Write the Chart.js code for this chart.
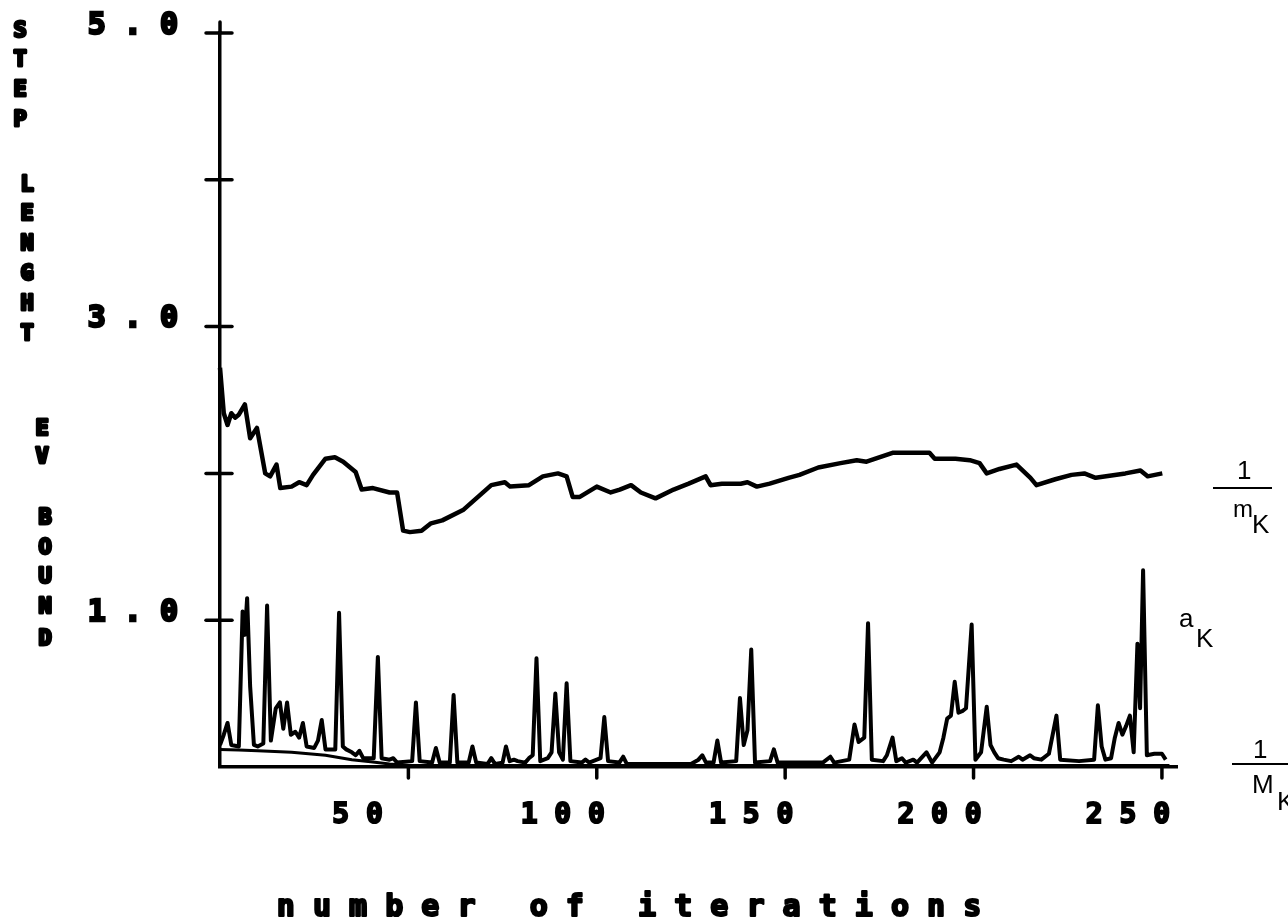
<!DOCTYPE html>
<html>
<head>
<meta charset="utf-8">
<script src="https://cdn.jsdelivr.net/npm/chart.js@4/dist/chart.umd.min.js"></script>
<style>
  html, body { margin: 0; padding: 0; background: #fff; }
  #c { display: block; }
</style>
</head>
<body>
<canvas id="c" width="1288" height="922"></canvas>
<script>
// ---- Data ----
// Upper curve: 1/m_K
const upperIter = [0,1,2,3,4,5,6.6,8,9.8,12,13.3,15,16,19,21,23,24.7,28,30.5,32.7,36,37.6,40.6,45,47,48.6,50.4,53.5,56,59,64.5,72,75.6,77,82,85.7,89.7,92,93.6,95.5,100,
  103.7,106.1,109.1,111.7,115.6,120.4,124.4,128.9,130.2,133.2,138.2,140,142.5,145.9,150.9,153.8,158.8,164.7,169,171.6,178.5,183.3,188.3,189.7,195.2,199,201.6,203.5,206.9,211.4,215.1,216.7,221.7,226,229.4,232.4,240.3,244.3,246.2,250.1];
const upperVal = [2.72,2.41,2.33,2.41,2.38,2.40,2.47,2.24,2.31,2.00,1.98,2.06,1.90,1.91,1.94,1.92,1.99,2.10,2.11,2.08,2.01,1.89,1.90,1.87,1.87,1.61,1.60,1.61,1.66,1.68,1.75,1.92,1.94,1.91,1.92,1.98,2.00,1.98,1.84,1.84,1.91,
  1.87,1.89,1.92,1.87,1.83,1.89,1.93,1.98,1.92,1.93,1.93,1.94,1.91,1.93,1.97,1.99,2.04,2.07,2.09,2.08,2.14,2.14,2.14,2.10,2.10,2.09,2.07,2.00,2.03,2.06,1.97,1.92,1.96,1.99,2.00,1.97,2.00,2.02,1.98,2.00];

// Spiky curve: a_K
const akIter = [0,1,2,3,5,6,6.6,7.2,8,9,
  10,11.5,12.5,13.5,14.8,15.9,16.8,17.8,18.8,20,
  21,22,23,25,26,27,28,30.6,31.6,32.6,
  33.5,35,36,37,38,40.8,41.9,42.9,45,46,
  47,51,52,53,56.3,57.3,58.3,61,62,63,
  66,67,68,71,72,73,75,75.9,76.9,78,
  79,81,82,83,84,85,87,88,89,90,
  91,92,93,96,97,98,101,102,103,106,
  107,108,125,127,128,129,131,132,133,137,
  138,139,140,141,142,146,147,148,160,162,
  163,167,168.4,169.5,171,172,173,176,177,178.5,
  179.5,181,182,184,185,187.5,189,191,192,193,
  194,195,196,197,198,199.5,200.5,202,203.5,204.5,
  205.5,206.5,208,210,212,213,215,216,218,220,
  222,223,228,232,233,234,235,236.5,237.5,238.5,
  239.5,240.5,241.5,242.5,243.5,244.2,245,246,248,250,
  251];
const akVal = [0.15,0.22,0.30,0.15,0.14,1.06,0.90,1.15,0.55,0.15,
  0.14,0.16,1.10,0.18,0.40,0.44,0.26,0.44,0.22,0.24,
  0.20,0.30,0.14,0.13,0.18,0.32,0.12,0.12,1.05,0.14,
  0.12,0.10,0.08,0.11,0.06,0.06,0.75,0.06,0.05,0.06,
  0.03,0.04,0.44,0.04,0.03,0.13,0.03,0.03,0.49,0.03,
  0.03,0.14,0.03,0.02,0.06,0.02,0.03,0.14,0.04,0.05,
  0.04,0.03,0.06,0.08,0.74,0.04,0.06,0.10,0.50,0.10,
  0.05,0.57,0.04,0.03,0.05,0.03,0.06,0.34,0.04,0.03,
  0.07,0.02,0.02,0.05,0.08,0.03,0.03,0.18,0.03,0.04,
  0.47,0.15,0.25,0.80,0.03,0.04,0.12,0.03,0.03,0.07,
  0.03,0.05,0.29,0.17,0.20,0.98,0.05,0.04,0.08,0.20,
  0.04,0.06,0.03,0.05,0.03,0.10,0.03,0.10,0.20,0.33,
  0.35,0.58,0.37,0.38,0.40,0.97,0.05,0.10,0.41,0.15,
  0.10,0.06,0.05,0.04,0.07,0.05,0.08,0.06,0.05,0.09,
  0.35,0.05,0.04,0.05,0.42,0.14,0.05,0.06,0.20,0.30,
  0.22,0.28,0.35,0.10,0.84,0.40,1.34,0.08,0.09,0.09,
  0.05];

// Lower curve: 1/M_K
const lowIter = [0,5,10,19,28,35,40,45,50,60,252];
const lowVal  = [0.12,0.115,0.11,0.10,0.08,0.05,0.035,0.02,0.01,0.01,0.01];

// Axis ticks
const xTickVals = [50,100,150,200,250];
const xTickText = ['5 0  ','1 0 0','1 5 0','2 0 0','2 5 0'];
const yTickVals = [0,1,2,3,4,5];
const yTickText = ['','1 . 0','','3 . 0','','5 . 0'];

// Texts
const yTitleLetters = [
  ['S',20,31],['T',20,60],['E',20,90],['P',20,120],
  ['L',27,185],['E',27,214],['N',27,244],['G',27,274],['H',27,304],['T',27,334],
  ['E',42,429],['V',42,457],
  ['B',45,518],['O',45,548],['U',45,577],['N',45,607],['D',45,639]
];
const xTitle = 'n u m b e r   o f   i t e r a t i o n s';

const toPts = (xs, ys) => xs.map((x, i) => ({x: x, y: ys[i]}));

const decor = {
  id: 'decor',
  afterDraw(chart) {
    const {ctx, chartArea, scales: {x, y}} = chart;
    ctx.save();
    ctx.strokeStyle = '#000';
    ctx.fillStyle = '#000';
    ctx.lineWidth = 3.5;
    ctx.lineCap = 'round';
    const ax = chartArea.left;
    const top = y.getPixelForValue(5);
    // axis extension above 5.0
    ctx.beginPath(); ctx.moveTo(ax, top - 11); ctx.lineTo(ax, top); ctx.stroke();
    // crosses on y axis
    yTickVals.forEach(v => {
      if (v === 0) return;
      const py = y.getPixelForValue(v);
      ctx.beginPath(); ctx.moveTo(ax - 14, py); ctx.lineTo(ax + 12, py); ctx.stroke();
    });
    // x ticks downward
    xTickVals.forEach(v => {
      const px = x.getPixelForValue(v);
      ctx.beginPath(); ctx.moveTo(px, chartArea.bottom); ctx.lineTo(px, chartArea.bottom + 11); ctx.stroke();
    });

    // vertical axis title letters
    ctx.font = 'bold 22px "DejaVu Sans Mono"';
    ctx.textAlign = 'center';
    ctx.textBaseline = 'middle';
    ctx.lineJoin = 'round';
    ctx.lineWidth = 3;
    yTitleLetters.forEach(([t, lx, ly]) => { ctx.fillText(t, lx, ly); ctx.strokeText(t, lx, ly); });

    // x axis title
    ctx.font = 'bold 30px "DejaVu Sans Mono"';
    ctx.textBaseline = 'alphabetic';
    ctx.lineWidth = 2.2;
    ctx.fillText(xTitle, 629, 916);
    ctx.strokeText(xTitle, 629, 916);

    // right-hand annotations
    ctx.lineWidth = 2;
    ctx.lineCap = 'butt';
    ctx.textAlign = 'left';
    const f = '26px "Liberation Sans"';
    // 1/m_K
    ctx.font = f;
    ctx.fillText('1', 1237, 479);
    ctx.beginPath(); ctx.moveTo(1213, 488); ctx.lineTo(1272, 488); ctx.stroke();
    ctx.font = '24px "Liberation Sans"';
    ctx.fillText('m', 1233, 517);
    ctx.font = f;
    ctx.fillText('K', 1252, 533);
    // a_K
    ctx.fillText('a', 1179, 627);
    ctx.fillText('K', 1196, 647);
    // 1/M_K
    ctx.fillText('1', 1253, 758);
    ctx.beginPath(); ctx.moveTo(1232, 764); ctx.lineTo(1288, 764); ctx.stroke();
    ctx.fillText('M', 1252, 793);
    ctx.fillText('K', 1277, 810);
    ctx.restore();
  }
};

new Chart(document.getElementById('c'), {
  type: 'line',
  data: {
    datasets: [
      { label: '1/m_K', data: toPts(upperIter, upperVal), borderColor: '#000', borderWidth: 4.5, pointRadius: 0, tension: 0, fill: false, clip: false, borderJoinStyle: 'round' },
      { label: 'a_K', data: toPts(akIter, akVal), borderColor: '#000', borderWidth: 4, pointRadius: 0, tension: 0, fill: false, clip: false, borderJoinStyle: 'round' },
      { label: '1/M_K', data: toPts(lowIter, lowVal), borderColor: '#000', borderWidth: 3, pointRadius: 0, tension: 0, fill: false, clip: false }
    ]
  },
  options: {
    responsive: false,
    animation: false,
    devicePixelRatio: 1,
    layout: { padding: { top: 33, right: 111, left: 0, bottom: 0 } },
    plugins: { legend: { display: false }, tooltip: { enabled: false } },
    scales: {
      x: {
        type: 'linear', min: 0, max: 254,
        afterBuildTicks: s => { s.ticks = xTickVals.map(v => ({ value: v })); },
        afterFit: s => { s.height = 155; s.paddingLeft = 0; s.paddingRight = 0; },
        grid: { display: false },
        border: { display: true, color: '#000', width: 3.5 },
        ticks: {
          autoSkip: false, maxRotation: 0, minRotation: 0,
          callback: (v) => { const i = xTickVals.indexOf(v); return i >= 0 ? xTickText[i] : ''; },
          font: { family: 'DejaVu Sans Mono', weight: 'bold', size: 28 },
          color: '#000', textStrokeColor: '#000', textStrokeWidth: 2,
          labelOffset: -34, padding: 24
        }
      },
      y: {
        type: 'linear', min: 0, max: 5,
        afterBuildTicks: s => { s.ticks = yTickVals.map(v => ({ value: v })); },
        afterFit: s => { s.width = 220; s.paddingTop = 0; s.paddingBottom = 0; },
        grid: { display: false },
        border: { display: true, color: '#000', width: 3.5 },
        ticks: {
          autoSkip: false,
          callback: (v) => { const i = yTickVals.indexOf(v); return i >= 0 ? yTickText[i] : ''; },
          font: { family: 'DejaVu Sans Mono', weight: 'bold', size: 30 },
          color: '#000', textStrokeColor: '#000', textStrokeWidth: 2.5,
          labelOffset: -7, padding: 34
        }
      }
    }
  },
  plugins: [decor]
});
</script>
</body>
</html>
